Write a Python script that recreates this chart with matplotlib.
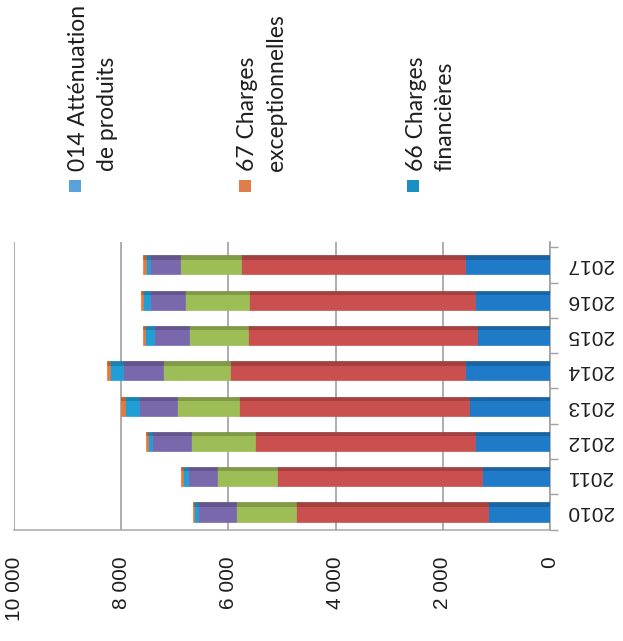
import matplotlib
matplotlib.use("Agg")
import matplotlib.pyplot as plt
from matplotlib.patches import Rectangle
import numpy as np

years = ["2010", "2011", "2012", "2013", "2014", "2015", "2016", "2017"]

# stacked segments, from value 0 outward
seg_blue   = [1164, 1277, 1390, 1502, 1577, 1371, 1390, 1577]
seg_red    = [3569, 3812, 4113, 4301, 4395, 4263, 4225, 4188]
seg_green  = [1126, 1127, 1201, 1164, 1240, 1108, 1202, 1146]
seg_purple = [714, 545, 714, 695, 751, 639, 639, 544]
seg_cyan   = [60, 90, 90, 260, 240, 180, 130, 90]
seg_orange = [20, 40, 30, 90, 60, 40, 40, 40]

series = [seg_blue, seg_red, seg_green, seg_purple, seg_cyan, seg_orange]
series_colors = ["#1f7bc8", "#c9504f", "#9dbd56", "#7a68ad", "#1f9fd6", "#e6783d"]

value_ticks = [0, 2000, 4000, 6000, 8000, 10000]
value_labels = ["0", "2 000", "4 000", "6 000", "8 000", "10 000"]

legend_labels = ["014 Atténuation\nde produits", "67 Charges\nexceptionnelles", "66 Charges\nfinancières"]
legend_colors = ["#5aa2dc", "#e07d4b", "#1a8fc3"]

W, H = 623, 641
fig = plt.figure(figsize=(W / 100, H / 100), dpi=100)
fig.patch.set_facecolor("white")

ax_left, ax_right, ax_top, ax_bot = 14, 550, 242, 530
ax = fig.add_axes([ax_left / W, 1 - ax_bot / H, (ax_right - ax_left) / W, (ax_bot - ax_top) / H])

y = np.arange(len(years))
left = np.zeros(len(years))
for vals, col in zip(series, series_colors):
    vals = np.array(vals, dtype=float)
    ax.barh(y, vals, left=left, height=0.54, color=col, edgecolor=col, linewidth=0.5, zorder=3)
    # darker top band to hint at the cylinder shading
    ax.barh(y + 0.21, vals, left=left, height=0.12, color="black", alpha=0.18, linewidth=0, zorder=4)
    left += vals

ax.set_xlim(10000, 0)
ax.set_ylim(-0.51, 7.65)

for s in ["top", "left", "bottom"]:
    ax.spines[s].set_visible(False)
ax.spines["right"].set_color("#a0a0a0")
ax.spines["right"].set_linewidth(1.2)

ax.set_xticks(value_ticks)
ax.set_xticklabels(value_labels, rotation=90, fontsize=15, family="Liberation Sans", color="#1e1e1e")
ax.tick_params(axis="x", length=0, pad=19)
for lab in ax.get_xticklabels():
    lab.set_va("top")
    lab.set_ha("center")
ax.grid(axis="x", color="#a0a0a0", linewidth=1.2, zorder=0)

ax.yaxis.tick_right()
ax.set_yticks(y)
ax.set_yticklabels(years, rotation=180, fontsize=15, family="Liberation Sans", color="#1e1e1e")
ax.tick_params(axis="y", length=0, pad=12)
for lab in ax.get_yticklabels():
    lab.set_ha("left")
    lab.set_va("center")
# small tick marks between categories
ax.set_yticks(np.arange(-0.5, len(years), 1.0), minor=True)
ax.tick_params(axis="y", which="minor", length=6, color="#a0a0a0", width=1, direction="out")

# floor line
ax.axhline(-0.51, color="#b0b0b0", linewidth=1.2, zorder=1, clip_on=False)

# legend (partially visible, rotated like the page)
sq = 12
positions = [(75, 93), (245, 262), (413, 431)]
for (sx, tx), lab, col in zip(positions, legend_labels, legend_colors):
    fig.add_artist(Rectangle(((sx - sq / 2) / W, 1 - (186 + sq / 2) / H), sq / W, sq / H,
                             transform=fig.transFigure, facecolor=col, edgecolor="none"))
    fig.text(tx / W, 1 - 171 / H, lab, rotation=90, ha="center", va="bottom",
             fontsize=16.5, family=["Lato", "DejaVu Sans"], color="#1e1e1e",
             multialignment="left", linespacing=1.45)

fig.savefig("out.png", dpi=100, facecolor="white")
